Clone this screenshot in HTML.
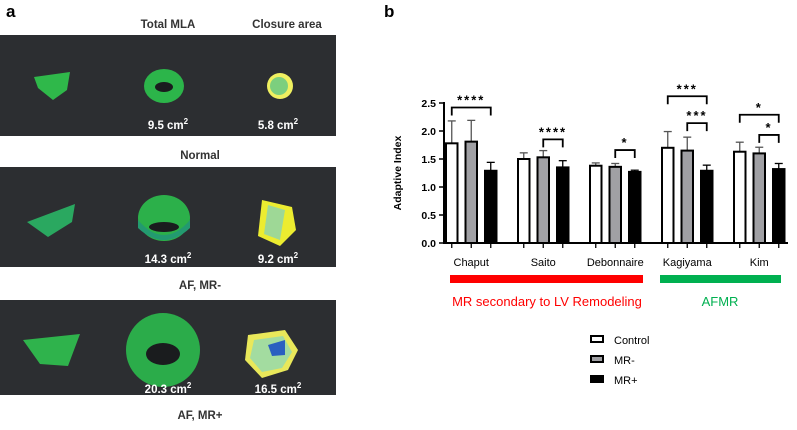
<!DOCTYPE html>
<html><head><meta charset="utf-8"><style>
body{margin:0;background:#fff;width:797px;height:425px;overflow:hidden;font-family:"Liberation Sans",Arial,sans-serif}
</style></head><body>
<svg width="797" height="425" xmlns="http://www.w3.org/2000/svg" font-family="Liberation Sans, Arial, sans-serif">
<g>
<text x="6" y="17" font-size="17" font-weight="bold">a</text>
<text x="168" y="28" font-size="11.5" font-weight="bold" fill="#333" text-anchor="middle">Total MLA</text>
<text x="287" y="28" font-size="11.5" font-weight="bold" fill="#333" text-anchor="middle">Closure area</text>
<rect x="0" y="35" width="336" height="101" fill="#2c2e31"/>
<rect x="0" y="167" width="336" height="100" fill="#2c2e31"/>
<rect x="0" y="300" width="336" height="95" fill="#2c2e31"/>
<!-- row1 shapes -->
<path d="M34 77 L70 72 L67 90 L53 100 L38 88Z" fill="#2fb84a"/>
<ellipse cx="164" cy="86" rx="20" ry="17" fill="#2cb54a"/>
<ellipse cx="164" cy="87" rx="9" ry="5" fill="#1a1c1e"/>
<circle cx="280" cy="86" r="13" fill="#f0f060"/>
<circle cx="279" cy="86" r="9" fill="#7ccf7e"/>
<text x="168" y="129" font-size="11.5" font-weight="bold" fill="#fff" text-anchor="middle">9.5 cm<tspan font-size="8" dy="-5">2</tspan></text>
<text x="278" y="129" font-size="11.5" font-weight="bold" fill="#fff" text-anchor="middle">5.8 cm<tspan font-size="8" dy="-5">2</tspan></text>
<text x="200" y="159" font-size="11.5" font-weight="bold" fill="#333" text-anchor="middle">Normal</text>
<!-- row2 -->
<path d="M27 222 L75 204 L72 222 L48 237Z" fill="#2aa860"/>
<ellipse cx="164" cy="218" rx="26" ry="23" fill="#2cb04a"/>
<path d="M138 220 Q164 250 190 220 L190 228 Q164 252 138 228Z" fill="#239a70"/>
<ellipse cx="164" cy="227" rx="15" ry="5" fill="#1a1c1e"/>
<path d="M262 200 L292 207 L296 230 L280 246 L258 236Z" fill="#ecec30"/>
<path d="M268 205 L285 210 L280 240 L264 234Z" fill="#9ed896"/>
<text x="168" y="263" font-size="11.5" font-weight="bold" fill="#fff" text-anchor="middle">14.3 cm<tspan font-size="8" dy="-5">2</tspan></text>
<text x="278" y="263" font-size="11.5" font-weight="bold" fill="#fff" text-anchor="middle">9.2 cm<tspan font-size="8" dy="-5">2</tspan></text>
<text x="200" y="289" font-size="11.5" font-weight="bold" fill="#333" text-anchor="middle">AF, MR-</text>
<!-- row3 -->
<path d="M23 340 L80 334 L68 366 L40 364Z" fill="#2fb34c"/>
<ellipse cx="163" cy="350" rx="37" ry="37" fill="#2bac4a"/>
<ellipse cx="163" cy="354" rx="17" ry="11" fill="#1a1c1e"/>
<path d="M248 335 L285 330 L298 350 L288 370 L262 378 L245 360Z" fill="#e9e85a"/>
<path d="M254 340 L283 336 L292 352 L282 368 L262 372 L250 358Z" fill="#a3dca0"/>
<path d="M268 345 L285 340 L285 355 L272 356Z" fill="#2a5fc0"/>
<text x="168" y="393" font-size="11.5" font-weight="bold" fill="#fff" text-anchor="middle">20.3 cm<tspan font-size="8" dy="-5">2</tspan></text>
<text x="278" y="393" font-size="11.5" font-weight="bold" fill="#fff" text-anchor="middle">16.5 cm<tspan font-size="8" dy="-5">2</tspan></text>
<text x="200" y="419" font-size="11.5" font-weight="bold" fill="#333" text-anchor="middle">AF, MR+</text>
</g>
<text x="384" y="17" font-size="17" font-weight="bold">b</text>
<g id="chart"></g>
</svg>
<script>
const categories=["Chaput","Saito","Debonnaire","Kagiyama","Kim"];
const controlVals=[1.78,1.50,1.38,1.70,1.63];
const mrMinusVals=[1.81,1.53,1.36,1.65,1.60];
const mrPlusVals=[1.29,1.35,1.27,1.29,1.32];
const controlErr=[0.40,0.11,0.05,0.29,0.17];
const mrMinusErr=[0.38,0.12,0.06,0.24,0.11];
const mrPlusErr=[0.15,0.12,0.03,0.10,0.10];
const yTicks=[0,0.5,1,1.5,2,2.5];
const yTickLabels=["0.0","0.5","1.0","1.5","2.0","2.5"];
const sigs=[[0,0,2,"****",2.42],[1,1,2,"****",1.85],[2,1,2,"*",1.66],[3,0,2,"***",2.62],[3,1,2,"***",2.14],[4,0,2,"*",2.29],[4,1,2,"*",1.93]];
const NS="http://www.w3.org/2000/svg";
const g=document.getElementById('chart');
const y=v=>243-v*56;
const groupX=i=>446+i*72;
const barX=(i,s)=>groupX(i)+s*19.5;
const BW=11.5;
function mk(t,a,p){const e=document.createElementNS(NS,t);for(const k in a)e.setAttribute(k,a[k]);(p||g).appendChild(e);return e;}
// axis
const ax=mk('line',{x1:444,y1:y(2.5)-1,x2:444,y2:243,stroke:'#000','stroke-width':2});


const xa=mk('line',{x1:443,y1:243,x2:788,y2:243,stroke:'#000','stroke-width':2});


yTicks.forEach((t,i)=>{mk('line',{x1:439,y1:y(t),x2:444,y2:y(t),stroke:'#000','stroke-width':1.5});
const tx=mk('text',{x:436,y:y(t)+4,'font-size':10.5,'font-weight':'bold','text-anchor':'end'});tx.textContent=yTickLabels[i];

});
const yt=mk('text',{x:0,y:0,'font-size':10.5,'font-weight':'bold','text-anchor':'middle',transform:'translate(401,173) rotate(-90)'});yt.textContent='Adaptive Index';


const series=[[controlVals,controlErr,'#fff'],[mrMinusVals,mrMinusErr,'#a0a0a4'],[mrPlusVals,mrPlusErr,'#000']];
categories.forEach((c,i)=>{
 series.forEach((s,si)=>{
  const x=barX(i,si),v=s[0][i],e=s[1][i];
  mk('line',{x1:x+BW/2,y1:y(v+e),x2:x+BW/2,y2:y(v),stroke:si==2?'#000':'#555','stroke-width':1.3});
  mk('line',{x1:x+BW/2-4,y1:y(v+e),x2:x+BW/2+4,y2:y(v+e),stroke:si==2?'#000':'#555','stroke-width':1.3});
  const r=mk('rect',{x:x,y:y(v),width:BW,height:243-y(v),fill:s[2],stroke:'#000','stroke-width':2});
  
  
  mk('line',{x1:x+BW/2,y1:243,x2:x+BW/2,y2:248,stroke:'#000','stroke-width':1.3});
 });
 const t=mk('text',{x:barX(i,1)+BW/2,y:266,'font-size':11,'text-anchor':'middle'});t.textContent=c;
 
 
});
sigs.forEach(s=>{const x1=barX(s[0],s[1])+BW/2,x2=barX(s[0],s[2])+BW/2,yy=y(s[4]);
 const p=mk('path',{d:`M${x1} ${yy+8}V${yy}H${x2}V${yy+8}`,fill:'none',stroke:'#000','stroke-width':1.8});
 
 
 const t=mk('text',{x:(x1+x2)/2,y:yy-3,'font-size':13,'font-weight':'bold','text-anchor':'middle','letter-spacing':'2'});t.textContent=s[3];
 
 });
</script>
<svg style="position:absolute;left:0;top:0" width="797" height="425" font-family="Liberation Sans, Arial, sans-serif">
<rect x="450" y="275" width="193" height="8" fill="#ff0000"/>
<rect x="660" y="275" width="121" height="8" fill="#00b050"/>
<text x="547" y="306" font-size="13" fill="#ff0000" text-anchor="middle">MR secondary to LV Remodeling</text>
<text x="720" y="306" font-size="13" fill="#00b050" text-anchor="middle">AFMR</text>
<g font-size="11">
<rect x="591" y="336" width="12" height="6" fill="#fff" stroke="#000" stroke-width="2"/><text x="614" y="344">Control</text>
<rect x="591" y="356" width="12" height="6" fill="#a0a0a4" stroke="#000" stroke-width="2"/><text x="614" y="364">MR-</text>
<rect x="591" y="376" width="12" height="6" fill="#000" stroke="#000" stroke-width="2"/><text x="614" y="384">MR+</text>
</g>
</svg>
</body></html>
